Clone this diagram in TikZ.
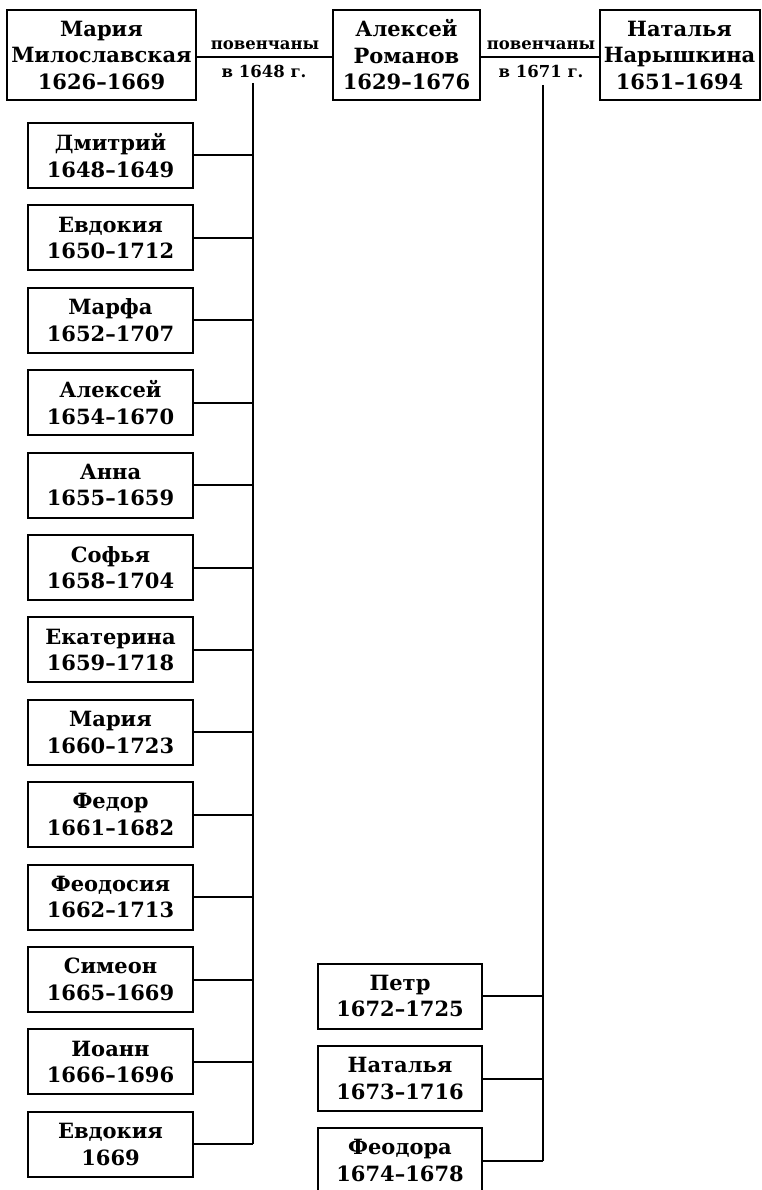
\documentclass[tikz,border=0pt]{standalone}
\usepackage{fontspec}
\setmainfont{DejaVu Serif}
\usetikzlibrary{calc}

\begin{document}
\begin{tikzpicture}[x=1pt,y=-1pt]
        \tikzset{person/.style={draw, line width=2pt, inner sep=0pt, align=center,
            font=\fontsize{21}{26.5}\selectfont\bfseries},
            parent/.style={person, minimum height=90pt},
            kidL/.style={person, minimum width=165pt, minimum height=65pt},
            kidR/.style={person, minimum width=164pt, minimum height=65pt},
            wed/.style={inner sep=0pt, font=\fontsize{16.5}{18}\selectfont\bfseries},
            link/.style={line width=2pt}}
        \useasboundingbox (0,0) rectangle (761,1190);
        \clip (0,0) rectangle (761,1190);
        % parents
        \node[parent, minimum width=189pt] (maria) at (101.5,55) {Мария\\Милославская\\1626–1669};
        \node[parent, minimum width=147pt] (aleksey) at (406.5,55) {Алексей\\Романов\\1629–1676};
        \node[parent, minimum width=160pt] (natalya) at (679.5,55) {Наталья\\Нарышкина\\1651–1694};
        \draw[link] (maria.east |- 0,57) -- (aleksey.west |- 0,57);
        \draw[link] (aleksey.east |- 0,57) -- (natalya.west |- 0,57);
        \node[wed] (wedA) at (265,45) {повенчаны};
        \node[wed] (yearA) at (264,71) {в 1648 г.};
        \node[wed] (wedB) at (541,45) {повенчаны};
        \node[wed] (yearB) at (541,71) {в 1671 г.};

        % first marriage
        \node[kidL] (dmitriy) at (110.5,155.5) {Дмитрий\\1648–1649};
        \node[kidL] (evdokiaA) at (110.5,237.9) {Евдокия\\1650–1712};
        \node[kidL] (marfa) at (110.5,320.3) {Марфа\\1652–1707};
        \node[kidL] (alekseyJr) at (110.5,402.7) {Алексей\\1654–1670};
        \node[kidL] (anna) at (110.5,485.1) {Анна\\1655–1659};
        \node[kidL] (sofya) at (110.5,567.5) {Софья\\1658–1704};
        \node[kidL] (ekaterina) at (110.5,649.9) {Екатерина\\1659–1718};
        \node[kidL] (mariaJr) at (110.5,732.3) {Мария\\1660–1723};
        \node[kidL] (fedor) at (110.5,814.7) {Федор\\1661–1682};
        \node[kidL] (feodosiya) at (110.5,897.1) {Феодосия\\1662–1713};
        \node[kidL] (simeon) at (110.5,979.5) {Симеон\\1665–1669};
        \node[kidL] (ioann) at (110.5,1061.9) {Иоанн\\1666–1696};
        \node[kidL] (evdokiaB) at (110.5,1144.3) {Евдокия\\1669};
        \coordinate (trunkA) at (253,83);
        \draw[link] (trunkA) -- (trunkA |- evdokiaB.east);
        \foreach \kid in {dmitriy,evdokiaA,marfa,alekseyJr,anna,sofya,ekaterina,
                          mariaJr,fedor,feodosiya,simeon,ioann,evdokiaB}
            \draw[link] (\kid.east) -- (\kid.east -| trunkA);

        % second marriage
        \node[kidR] (petr) at (400,996) {Петр\\1672–1725};
        \node[kidR] (natalyaJr) at (400,1078.5) {Наталья\\1673–1716};
        \node[kidR] (feodora) at (400,1160.5) {Феодора\\1674–1678};
        \coordinate (trunkB) at (543,85);
        \draw[link] (trunkB) -- (trunkB |- feodora.east);
        \foreach \kid in {petr,natalyaJr,feodora}
            \draw[link] (\kid.east) -- (\kid.east -| trunkB);
\end{tikzpicture}
\end{document}
